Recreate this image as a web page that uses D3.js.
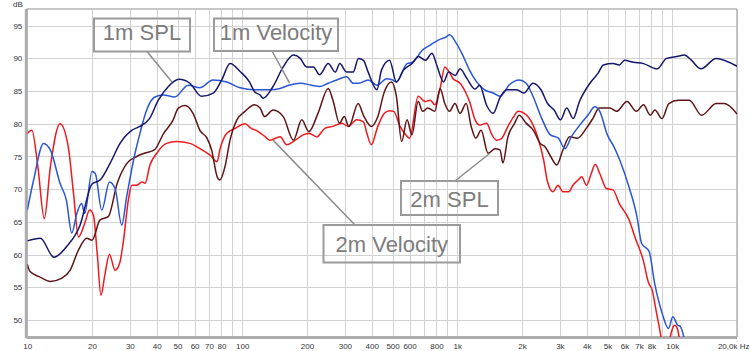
<!DOCTYPE html>
<html>
<head>
<meta charset="utf-8">
<script src="https://cdn.jsdelivr.net/npm/d3@7"></script>
<style>
  body { margin: 0; background: #fff; }
  svg { display: block; font-family: "Liberation Sans", Arial, sans-serif; }
</style>
</head>
<body>
<div id="chart"></div>
<script>
////////////////////////////////////////////////////////////////////////
// Data: [frequency Hz, level dB]

// 1m SPL (navy)
let spl1m = [[10,62.1],[11.5,62.5],[13.3,59.6],[15.3,61.3],[17.6,64.5],[20,70.8],[21.8,71.4],[24.3,74],[27,77],[30.6,79],[33.4,79.6],[37,80.8],[40.7,83.6],[45.3,85.7],[50.8,86.8],[57,86.2],[64.6,84.2],[73.3,84.7],[80.2,86.7],[87.7,89.2],[97.7,88],[108,86.4],[114,84.9],[121,84.4],[125,83.9],[139,85.7],[155,88.7],[173,90.5],[186,90],[199,88.7],[214,88.7],[229,87.5],[251,89.2],[271,87.9],[284,89.2],[306,87.9],[328,87.9],[347,90],[366,89.7],[385,87.9],[423,85.2],[444,88.2],[484,89.7],[521,86.4],[562,88.2],[615,89.2],[660,90.3],[710,89.7],[763,90.8],[802,89],[863,86.4],[911,87.9],[979,87.4],[1030,88.4],[1110,86.9],[1210,85.3],[1270,85.9],[1370,82.8],[1470,81.6],[1580,84],[1700,85.2],[1890,85.2],[2040,84.7],[2250,86.2],[2450,85.2],[2630,83.1],[2820,82.1],[3020,80.6],[3230,82.4],[3460,80.8],[3700,83.4],[4140,86.2],[4510,87.7],[4780,89],[5300,89.2],[5670,89],[6000,89.7],[6600,89.4],[7350,89.2],[8500,88.4],[9400,90],[10500,90.3],[11400,90.5],[12200,89.8],[13600,88.4],[16000,90],[20000,88.8]];

// 1m Velocity (blue)
let vel1m = [[10,66.8],[10.7,71.4],[11.9,77],[12.8,76],[14.2,70.9],[15.2,68.3],[16.1,63.3],[17,66.3],[17.9,67.8],[18.5,66.3],[20,72.7],[20.7,72.4],[22.2,66.8],[24.1,71.1],[25.6,70.1],[27.5,64.5],[29,68.9],[31.7,75.5],[33.4,78.5],[35.9,82.1],[39.2,84.1],[43,84.4],[48.5,84.1],[56,85.9],[63.5,85.5],[73,86.7],[84.5,86.4],[97.7,85.5],[114,85.2],[135,85.2],[150,85.4],[165,85.9],[186,86.2],[210,85.9],[229,85.7],[251,86.2],[275,86.7],[306,87.2],[328,86.2],[347,86.2],[385,86.7],[423,85.9],[470,86.9],[500,86.7],[521,86.4],[584,89.2],[620,89.4],[690,91.3],[745,92],[816,92.8],[890,93.3],[920,93.6],[990,92.3],[1060,90.5],[1140,88.2],[1230,86.4],[1340,85.2],[1470,84.7],[1580,84.2],[1750,86],[1940,86.7],[2090,86.2],[2250,84.2],[2450,81.1],[2710,78.3],[2950,77.8],[3170,76.2],[3390,78],[3710,79.8],[4050,81.3],[4360,82.6],[4600,81.9],[4990,78.3],[5350,76.5],[5720,74.3],[6280,70.4],[6850,65.8],[7200,61.7],[7800,60.5],[8280,55.6],[8980,51],[9600,48.7],[10060,50.5],[10600,49.2],[10900,49],[11500,46.5],[12000,44]];

// 2m SPL (maroon)
let spl2m = [[10,58.5],[10.3,57.4],[11.4,56.6],[12.8,55.9],[14.5,56.4],[15.8,57.6],[17.3,60.7],[18.9,62.5],[20,62.2],[21.8,65.3],[23.8,65.8],[26.2,70.9],[29,73.9],[32.3,75],[35,75.5],[39,76],[43,78.5],[47.7,80.6],[50.4,82.4],[54.2,82.8],[59,81.6],[63.5,79],[68.5,77.8],[72,76],[76.4,71.9],[78.6,71.4],[83,73.4],[87.7,77.5],[94.4,80.6],[103,81.9],[114,82.9],[121,82.4],[127,81.1],[139,82.1],[155,81.1],[173,77.5],[189,80.6],[204,78.8],[225,81.6],[251,85.4],[264,83.6],[283,80.1],[298,81.1],[313,79.6],[346,83.1],[366,81.3],[399,79.6],[427,81.1],[458,84.9],[494,86.4],[521,84.2],[551,77.3],[584,80.6],[615,78.3],[658,83.4],[690,81.9],[729,82.4],[786,81.9],[832,85.4],[875,83.1],[920,81.9],[975,83.1],[1030,81.6],[1100,83.1],[1160,79.6],[1220,77.8],[1290,79],[1390,75.5],[1500,76.2],[1580,76],[1630,74],[1720,78],[1850,80.1],[1940,81.3],[2090,80.1],[2260,79],[2430,77],[2560,76.5],[2720,75],[2900,73.7],[3100,76],[3330,78],[3620,77.8],[3980,79.3],[4270,80.8],[4570,82.4],[5130,82.4],[5500,81.9],[6160,83.4],[6800,81.9],[7350,82.9],[7900,81.3],[8300,82.1],[8960,80.8],[9640,83.1],[10700,83.6],[12000,83.6],[13700,81.3],[16000,83.1],[17500,83.1],[20000,81.5]];

// 2m Velocity (red)
let vel2m = [[10,78.5],[10.5,79],[11.2,73.4],[12,65.5],[12.8,73.4],[14.2,80],[15.5,76.5],[16.4,69.4],[17.3,62.7],[18.5,64.8],[19.5,66.8],[20.3,66],[21.2,59.7],[22,53.8],[23,57.1],[24.1,60],[25.6,57.6],[26.9,58.7],[27.9,61.7],[29.5,68.3],[30.6,70.6],[32.3,70.6],[34.1,71.1],[35.3,70.9],[37.2,73.7],[40,75.5],[44.4,77],[49.5,77.3],[57,77],[63.5,76.2],[70.8,75.2],[76.4,74.2],[78.6,76],[84.5,78.5],[92.6,79.3],[103,80],[110,79.3],[116,79],[128,78],[134,77.5],[150,78],[161,76.8],[173,77.3],[192,78.3],[205,78.5],[222,78],[242,79.3],[264,79.6],[290,80.1],[311,79.6],[340,80.6],[366,80.3],[380,78.5],[398,76.8],[427,79.6],[458,81.6],[484,82],[506,81.9],[542,79.6],[570,78.5],[600,77.8],[658,84.2],[710,83.4],[750,83.6],[786,82.9],[832,85.4],[875,88.7],[905,88.2],[957,86.9],[1030,86.2],[1090,84.9],[1140,83.4],[1210,80.6],[1270,79.8],[1370,80.1],[1440,78.5],[1520,77.5],[1600,77.7],[1720,79.6],[1830,81.1],[1920,81.9],[2050,81.6],[2230,80.1],[2390,77.5],[2520,74.5],[2630,71.1],[2790,69.6],[2940,70.6],[3100,69.6],[3300,69.6],[3450,70.6],[3650,71.4],[3790,71.9],[3990,70.6],[4200,72.4],[4380,73.8],[4600,72.4],[4940,70.1],[5300,69.9],[5670,67.8],[6300,65.3],[6700,62.7],[7320,59.2],[7770,55.6],[8060,54.6],[8400,51.5],[8800,48],[9100,45],[9500,44.5],[9800,47.5],[10000,48.6],[10250,49.2],[10600,48.5],[10900,46],[11200,44]];

// Axis ticks
let xTickValues = [10,20,30,40,50,60,70,80,100,200,300,400,500,600,800,1000,2000,3000,4000,5000,6000,7000,8000,10000,20000];
let xTickLabels = ["10","20","30","40","50","60","70","80","100","200","300","400","500","600","800","1k","2k","3k","4k","5k","6k","7k","8k","10k","20,0k Hz"];
let yTickValues = [50,55,60,65,70,75,80,85,90,95];

// Callout labels: text and the point on the curve they point to [Hz, dB]
let labelTexts = ["1m SPL", "1m Velocity", "2m SPL", "2m Velocity"];
let labelTargets = [[47.1,86.4],[166,86.2],[1418,75.5],[139,77.5]];

////////////////////////////////////////////////////////////////////////
// Layout

let width = 750, height = 351;
let plot = {left: 27.3, right: 737, top: 9, bottom: 337};

let svg = d3.select("#chart")
  .append("svg")
  .attr("width", width)
  .attr("height", height);

let xScale = d3.scaleLog()
  .domain([10, 20000])
  .range([plot.left, plot.right]);

let yScale = d3.scaleLinear()
  .domain([47.4, 97.55])
  .range([plot.bottom, plot.top]);

// every 1..9 x decade for the vertical grid
let gridX = [];
for (let dec = 10; dec <= 10000; dec *= 10) {
  for (let m = 1; m <= 9; m++) {
    if (dec * m <= 20000) gridX.push(dec * m);
  }
}
gridX.push(20000);

svg.append("defs").append("clipPath")
  .attr("id", "plotclip")
  .append("rect")
  .attr("x", plot.left)
  .attr("y", plot.top)
  .attr("width", plot.right - plot.left)
  .attr("height", plot.bottom - plot.top);

// grid
svg.append("g")
  .attr("class", "gridx")
  .selectAll("line")
  .data(gridX)
  .enter()
  .append("line")
  .attr("x1", d => Math.round(xScale(d)) + 0.5)
  .attr("x2", d => Math.round(xScale(d)) + 0.5)
  .attr("y1", plot.top)
  .attr("y2", plot.bottom)
  .attr("stroke", "#d2d2d2")
  .attr("stroke-width", 1);

svg.append("g")
  .attr("class", "gridy")
  .selectAll("line")
  .data(yTickValues)
  .enter()
  .append("line")
  .attr("x1", plot.left)
  .attr("x2", plot.right)
  .attr("y1", d => Math.round(yScale(d)) + 0.5)
  .attr("y2", d => Math.round(yScale(d)) + 0.5)
  .attr("stroke", "#d2d2d2")
  .attr("stroke-width", 1);

// frame
svg.append("line")
  .attr("x1", plot.left - 1).attr("x2", plot.right)
  .attr("y1", plot.top).attr("y2", plot.top)
  .attr("stroke", "#b4b4b4").attr("stroke-width", 1.5);
svg.append("line")
  .attr("x1", plot.right).attr("x2", plot.right)
  .attr("y1", plot.top).attr("y2", plot.bottom)
  .attr("stroke", "#b4b4b4").attr("stroke-width", 1.5);
svg.append("line")
  .attr("x1", plot.left - 1).attr("x2", plot.left - 1)
  .attr("y1", plot.top).attr("y2", plot.bottom + 1)
  .attr("stroke", "#adadad").attr("stroke-width", 3);
svg.append("line")
  .attr("x1", plot.left - 1).attr("x2", plot.right)
  .attr("y1", plot.bottom + 0.5).attr("y2", plot.bottom + 0.5)
  .attr("stroke", "#adadad").attr("stroke-width", 3);

// axes
svg.append("g")
  .attr("id", "x-axis")
  .attr("transform", `translate(0, ${plot.bottom})`)
  .call(d3.axisBottom(xScale)
    .tickValues(xTickValues)
    .tickFormat((d, i) => xTickLabels[i])
    .tickSize(0)
    .tickPadding(6));

svg.append("g")
  .attr("id", "y-axis")
  .attr("transform", `translate(${plot.left}, 0)`)
  .call(d3.axisLeft(yScale)
    .tickValues(yTickValues)
    .tickFormat(d3.format("d"))
    .tickSize(0)
    .tickPadding(5));

svg.selectAll("#x-axis .domain, #y-axis .domain").remove();
svg.selectAll("#x-axis text, #y-axis text")
  .attr("font-size", 8)
  .attr("font-family", "'Liberation Sans', Arial, sans-serif")
  .attr("fill", "#333");

// last x label sits flush with the right edge
svg.selectAll("#x-axis .tick")
  .filter(d => d === 20000)
  .select("text")
  .attr("text-anchor", "end")
  .attr("x", 12);

svg.append("text")
  .attr("x", 13)
  .attr("y", 7)
  .attr("font-size", 8)
  .attr("fill", "#333")
  .text("dB");

// curves
let line = d3.line()
  .x(d => xScale(d[0]))
  .y(d => yScale(d[1]))
  .curve(d3.curveMonotoneX);

let series = [
  {data: vel2m, color: "#f0181c"},
  {data: spl2m, color: "#5e1414"},
  {data: vel1m, color: "#2a56d6"},
  {data: spl1m, color: "#16166a"}
];

svg.append("g")
  .attr("class", "curves")
  .attr("clip-path", "url(#plotclip)")
  .selectAll("path")
  .data(series)
  .enter()
  .append("path")
  .attr("d", d => line(d.data))
  .attr("fill", "none")
  .attr("stroke", d => d.color)
  .attr("stroke-width", 1.5)
  .attr("stroke-linejoin", "round");

// callout boxes (pixel layout) and their leader lines
let boxes = [
  {x: 94, y: 18.5, w: 96, h: 33, ty: 40, from: [147, 51.5]},
  {x: 214, y: 18.5, w: 124, h: 32.5, ty: 40, from: [272, 51]},
  {x: 401, y: 181, w: 97, h: 34, ty: 206.5, from: [455, 181]},
  {x: 323.5, y: 225, w: 136.5, h: 37.5, ty: 251.5, from: [355, 225]}
];

let callouts = svg.append("g").attr("class", "callouts");

callouts.selectAll("line")
  .data(boxes)
  .enter()
  .append("line")
  .attr("x1", d => d.from[0])
  .attr("y1", d => d.from[1])
  .attr("x2", (d, i) => xScale(labelTargets[i][0]))
  .attr("y2", (d, i) => yScale(labelTargets[i][1]))
  .attr("stroke", "#8c8c8c")
  .attr("stroke-width", 1.5);

callouts.selectAll("rect")
  .data(boxes)
  .enter()
  .append("rect")
  .attr("x", d => d.x)
  .attr("y", d => d.y)
  .attr("width", d => d.w)
  .attr("height", d => d.h)
  .attr("fill", "none")
  .attr("stroke", "#9a9a9a")
  .attr("stroke-width", 2);

callouts.selectAll("text")
  .data(boxes)
  .enter()
  .append("text")
  .attr("x", d => d.x + d.w / 2)
  .attr("y", d => d.ty)
  .attr("text-anchor", "middle")
  .attr("font-size", 22)
  .attr("fill", "#7c7c7c")
  .text((d, i) => labelTexts[i]);
</script>
</body>
</html>
